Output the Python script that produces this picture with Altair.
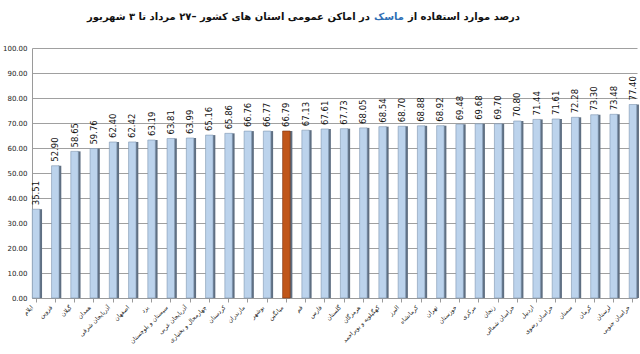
import altair as alt
import pandas as pd

provinces = ["ایلام", "قزوین", "گیلان", "همدان", "آذربایجان شرقی", "اصفهان", "یزد",
             "سیستان و بلوچستان", "آذربایجان غربی", "چهارمحال و بختیاری", "کردستان",
             "مازندران", "بوشهر", "میانگین", "قم", "فارس", "گلستان", "هرمزگان",
             "کهگیلویه و بویراحمد", "البرز", "کرمانشاه", "تهران", "خوزستان", "مرکزی",
             "زنجان", "خراسان شمالی", "اردبیل", "خراسان رضوی", "سمنان", "کرمان",
             "لرستان", "خراسان جنوبی"]
values = [35.51, 52.90, 58.65, 59.76, 62.40, 62.42, 63.19, 63.81, 63.99, 65.16, 65.86,
          66.76, 66.77, 66.79, 67.13, 67.61, 67.73, 68.05, 68.54, 68.70, 68.88, 68.92,
          69.48, 69.68, 69.70, 70.80, 71.44, 71.61, 72.28, 73.30, 73.48, 77.40]
highlight = "میانگین"

title_right = "درصد موارد استفاده از"
title_mid = "ماسک"
title_left = "در اماکن عمومی استان های کشور –۲۷ مرداد تا ۳ شهریور"

df = pd.DataFrame({"p": provinces, "v": values})
df["lab"] = df["v"].map(lambda x: f"{x:.2f}")
df["hl"] = df["p"] == highlight

PL, PT = 32, 48
W, H = 605, 250
FONT = "DejaVu Sans"

x = alt.X("p:N", sort=None, title=None,
          scale=alt.Scale(paddingInner=0.58, paddingOuter=0.0),
          axis=alt.Axis(labelAngle=-45, labelAlign="right", labelBaseline="middle",
                        labelFontSize=6, labelFont=FONT, labelColor="#222222",
                        domainColor="#9a9a9a", tickColor="#9a9a9a", tickSize=4,
                        labelPadding=4, labelOverlap=False, labelLimit=80,
                        labelOffset=-4))
y = alt.Y("v:Q", title=None,
          scale=alt.Scale(domain=[0, 100], nice=False),
          axis=alt.Axis(values=list(range(0, 101, 10)), format=".2f",
                        labelFontSize=7, labelFont=FONT, labelColor="#222222",
                        domainColor="#9a9a9a", tickSize=0, labelPadding=5,
                        grid=True, gridColor="#a0a0a0", gridWidth=1))

base = alt.Chart(df).encode(x=x, y=y)

side = base.mark_bar(size=3, xOffset=4.5, color="#5f6f82")
bars = base.mark_bar(size=7.5, stroke="#7d95b0", strokeWidth=0.6).encode(
    color=alt.condition(alt.datum.hl, alt.value("#c0561a"), alt.value("#bcd3ec")),
    stroke=alt.condition(alt.datum.hl, alt.value("#7a3210"), alt.value("#7d95b0")))
labels = base.mark_text(angle=270, align="left", baseline="middle", fontSize=8.5,
                        font=FONT, color="#111111", yOffset=-4).encode(text="lab:N")

tdf = pd.DataFrame({"t": [title_right, title_mid, title_left],
                    "px": [520 - PL, 404 - PL, 370 - PL],
                    "c": ["#111111", "#2f6fb5", "#111111"]})
title = alt.Chart(tdf).mark_text(align="right", baseline="middle", fontSize=10,
                                 fontWeight="bold", font=FONT).encode(
    x=alt.X("px:Q", scale=None), y=alt.value(17 - PT),
    text="t:N", color=alt.Color("c:N", scale=None))

chart = alt.layer(side, bars, labels, title).properties(
    width=W, height=H,
    autosize=alt.AutoSizeParams(type="none"),
    padding={"left": PL, "top": PT, "right": 640 - PL - W, "bottom": 354 - PT - H},
    background="white"
).configure_view(stroke=None)

chart.save("out.html", embed_options={"renderer": "svg", "actions": False})
